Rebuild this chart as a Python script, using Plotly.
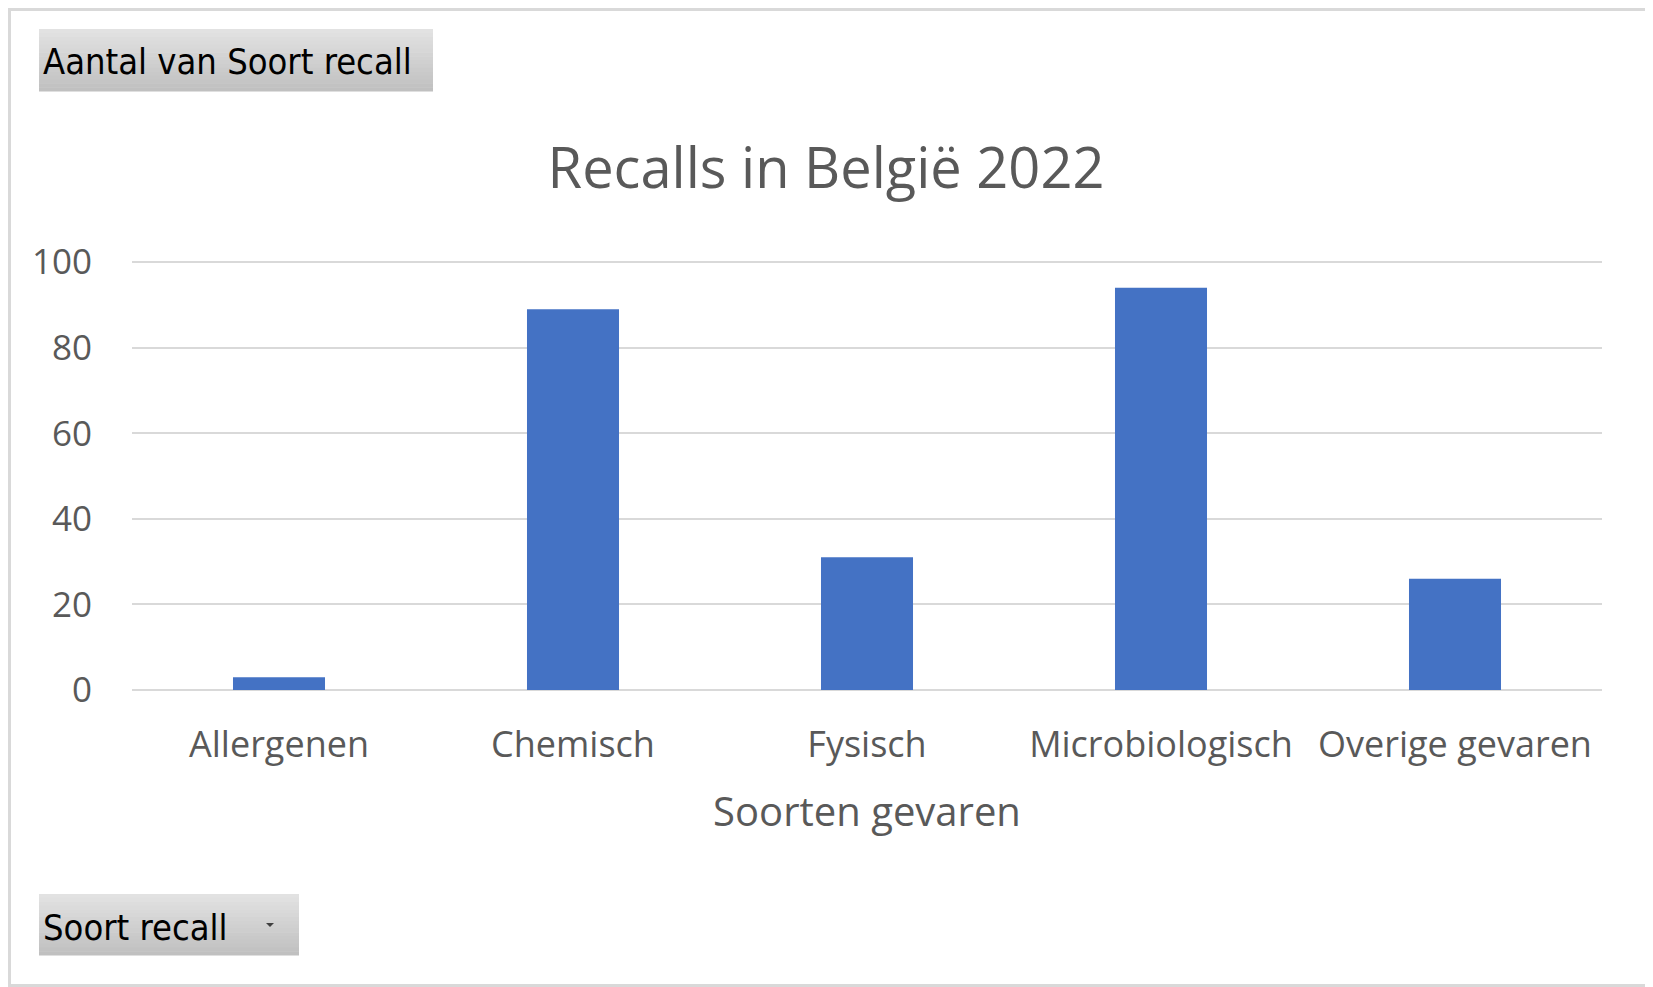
import plotly.graph_objects as go

categories = ["Allergenen", "Chemisch", "Fysisch", "Microbiologisch", "Overige gevaren"]
values = [3, 89, 31, 94, 26]
y_ticks = [0, 20, 40, 60, 80, 100]

# The page body has an 8px default margin, so the figure is 8px smaller and
# all screen positions are shifted by 8px.
OFF = 8
W, H = 1653 - OFF, 987 - OFF
L, R, T, B = 124, 51, 252, 297
PW, PH = W - L - R, H - T - B
FONT = "Open Sans"
GREY = "#595959"


def xp(sx):
    return (sx - OFF - L) / PW


def yp(sy):
    return (H - B - (sy - OFF)) / PH


fig = go.Figure(go.Bar(x=categories, y=values,
                       marker=dict(color="#4472C4", line=dict(width=0))))

shapes = []


def button(x0, y0, x1, y1):
    n = 16
    top = (226, 226, 226)
    bot = (192, 192, 192)
    hh = (y1 - y0) / n
    out = []
    for i in range(n):
        t = i / (n - 1)
        c = tuple(int(round(top[k] + (bot[k] - top[k]) * t)) for k in range(3))
        out.append(dict(type="rect", xref="paper", yref="paper", layer="below",
                        x0=xp(x0), x1=xp(x1),
                        y0=yp(y0 + (i + 1) * hh + 0.6), y1=yp(y0 + i * hh),
                        fillcolor="rgb(%d,%d,%d)" % c, line=dict(width=0)))
    return out


shapes += button(39, 29, 433, 91)
shapes += button(39, 894, 299, 955)
# dropdown triangle
tx, ty = 270, 925
shapes.append(dict(type="path", xref="paper", yref="paper",
                   path="M %f %f L %f %f L %f %f Z" % (xp(tx - 4), yp(ty - 2), xp(tx + 4), yp(ty - 2), xp(tx), yp(ty + 2)),
                   fillcolor="#404040", line=dict(width=0)))
# light border around the whole image
shapes.append(dict(type="rect", xref="paper", yref="paper",
                   x0=xp(OFF + 1.5), x1=xp(1653 - 1.5), y0=yp(987 - 1.5), y1=yp(OFF + 1.5),
                   line=dict(color="#D9D9D9", width=3)))

fig.update_layout(
    width=W, height=H,
    margin=dict(l=L, r=R, t=T, b=B),
    paper_bgcolor="white", plot_bgcolor="white",
    showlegend=False,
    title=dict(text="Recalls in België 2022", x=xp(826), xref="paper", xanchor="center",
               y=1 - (168 - OFF) / H, yref="container", yanchor="middle",
               font=dict(family=FONT, size=56, color=GREY)),
    font=dict(family=FONT, color=GREY),
    shapes=shapes,
    annotations=[
        dict(text="Aantal van Soort recall", xref="paper", yref="paper",
             x=xp(41), y=yp(62), xanchor="left", yanchor="middle", showarrow=False,
             font=dict(family="DejaVu Sans Condensed", size=36, color="black")),
        dict(text="Soort recall", xref="paper", yref="paper",
             x=xp(41), y=yp(927), xanchor="left", yanchor="middle", showarrow=False,
             font=dict(family="DejaVu Sans Condensed", size=36, color="black")),
    ],
    bargap=0.687,
)
fig.update_xaxes(
    showgrid=False, showline=False, ticks="", tickfont=dict(family=FONT, size=36, color=GREY),
    ticklabelstandoff=30,
    title=dict(text="Soorten gevaren", font=dict(family=FONT, size=40, color=GREY), standoff=30),
)
fig.update_yaxes(
    range=[0, 100.5], tickvals=y_ticks, showgrid=True, gridcolor="#D9D9D9", gridwidth=2,
    zeroline=True, zerolinecolor="#D9D9D9", zerolinewidth=2,
    showline=False, ticks="", tickfont=dict(family=FONT, size=35, color=GREY),
    ticklabelstandoff=39,
)
fig.write_html("out.html")
